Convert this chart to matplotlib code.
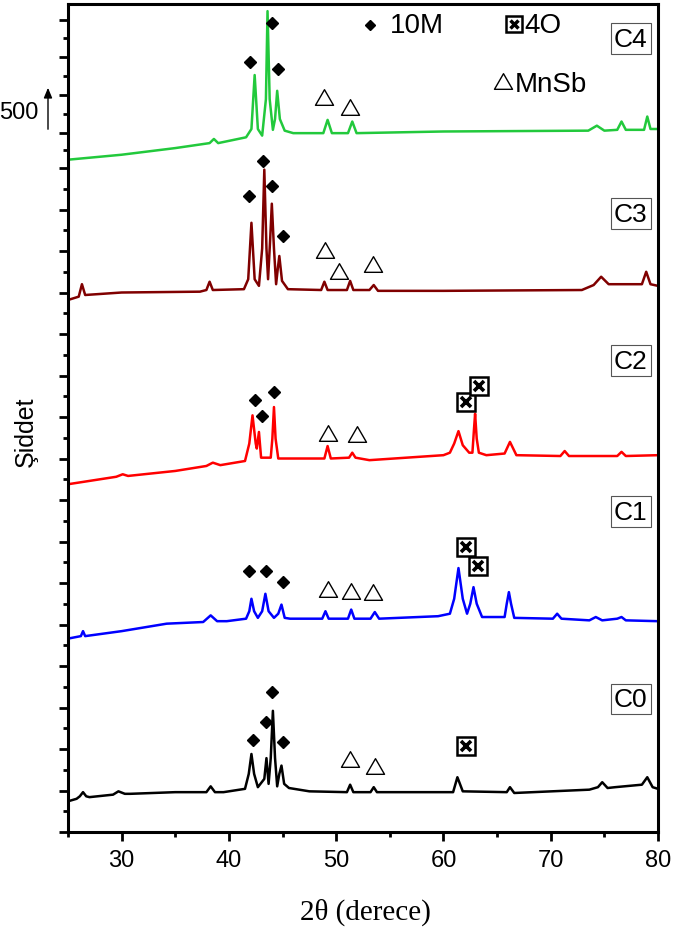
import matplotlib
matplotlib.use("Agg")
import matplotlib.pyplot as plt
from matplotlib.path import Path
from matplotlib.ticker import FixedLocator, MultipleLocator

# --- XRD traces (2theta in degrees, intensity in counts, stacked offsets included) ---
c0_2theta = [25, 25.8, 26.1, 26.4, 26.7, 27.0, 29.2, 29.7, 30.3, 30.8, 35, 37.9, 38.3, 38.7,
             39.5, 41.5, 41.85, 42.1, 42.35, 42.7, 43.3, 43.5, 43.7, 43.9, 44.1, 44.3, 44.5,
             44.7, 44.9, 45.15, 45.6, 47.5, 51.0, 51.3, 51.6, 53.2, 53.5, 53.8, 60.9, 61.3,
             61.8, 65.9, 66.2, 66.6, 73.6, 74.4, 74.8, 75.3, 76, 78.5, 79.0, 79.5, 80]
c0_int = [370, 400, 430, 480, 430, 420, 450, 490, 460, 460, 480, 480, 550, 480,
          480, 520, 700, 940, 700, 540, 640, 890, 580, 890, 1460, 890, 550,
          700, 800, 580, 530, 490, 480, 570, 480, 480, 540, 480, 480, 660,
          490, 480, 540, 470, 510, 540, 600, 530, 540, 570, 660, 540, 520]

c1_2theta = [25, 26.2, 26.4, 26.6, 30, 34.2, 37.6, 38.3, 38.9, 39.8, 41.6, 41.9, 42.1, 42.35,
             42.7, 43.1, 43.4, 43.7, 44.2, 44.6, 44.9, 45.2, 45.7, 48.7, 49.0, 49.3, 51.1,
             51.4, 51.7, 53.2, 53.6, 54.0, 59.5, 60.6, 61.0, 61.4, 61.8, 62.2, 62.5, 62.8,
             63.1, 63.6, 65.7, 65.9, 66.1, 66.3, 66.6, 70.2, 70.6, 71.0, 73.6, 74.2, 74.8,
             76.2, 76.6, 77.0, 80]
c1_int = [2330, 2360, 2420, 2360, 2420, 2510, 2530, 2610, 2540, 2540, 2570, 2660, 2810, 2660,
          2580, 2660, 2870, 2660, 2580, 2630, 2740, 2580, 2570, 2570, 2660, 2570, 2570,
          2680, 2570, 2570, 2650, 2570, 2600, 2630, 2810, 3180, 2810, 2630, 2750, 2950,
          2750, 2590, 2590, 2750, 2890, 2750, 2580, 2570, 2630, 2570, 2550, 2590, 2550,
          2570, 2590, 2550, 2540]

c2_2theta = [25, 29.5, 30.1, 30.6, 35, 37.9, 38.5, 39.2, 41.5, 41.9, 42.2, 42.5, 42.6, 42.8,
             43.0, 43.9, 44.05, 44.2, 44.35, 44.6, 48.9, 49.2, 49.5, 51.2, 51.5, 51.8, 53.1,
             60.0, 60.6, 61.0, 61.4, 61.8, 62.4, 62.7, 62.85, 62.95, 63.1, 63.3, 64, 65.7,
             66.2, 66.8, 70.9, 71.3, 71.7, 76.2, 76.6, 77.0, 80]
c2_int = [4190, 4280, 4310, 4290, 4350, 4410, 4450, 4420, 4470, 4680, 5020, 4680, 4620, 4820,
          4510, 4510, 4740, 5120, 4740, 4500, 4500, 4650, 4500, 4510, 4570, 4510, 4480,
          4540, 4570, 4680, 4830, 4660, 4570, 4570, 4860, 5040, 4740, 4570, 4540, 4560,
          4700, 4540, 4530, 4590, 4530, 4530, 4580, 4530, 4540]

c3_2theta = [25, 26.0, 26.3, 26.6, 30, 37.3, 37.9, 38.2, 38.5, 41.4, 41.8, 42.1, 42.4, 42.8,
             43.1, 43.3, 43.5, 43.65, 43.85, 44.0, 44.2, 44.4, 44.55, 44.7, 44.95, 45.5,
             48.6, 48.9, 49.2, 51.0, 51.3, 51.6, 53.1, 53.5, 53.9, 60, 72.9, 74.0, 74.7,
             75.4, 78.5, 78.9, 79.3, 80]
c3_int = [6410, 6450, 6600, 6470, 6500, 6510, 6530, 6630, 6530, 6540, 6660, 7340, 6660, 6580,
          7030, 7980, 7030, 6660, 7150, 7570, 7030, 6600, 6780, 6940, 6640, 6540,
          6530, 6630, 6530, 6530, 6640, 6530, 6530, 6590, 6520, 6520, 6530, 6590, 6690,
          6600, 6600, 6750, 6600, 6580]

c4_2theta = [25, 30, 35, 38.2, 38.6, 39.0, 41.6, 42.1, 42.4, 42.7, 43.1, 43.45, 43.6, 43.8,
             44.1, 44.3, 44.5, 44.75, 45.2, 46, 48.8, 49.2, 49.6, 51.1, 51.5, 51.9, 60,
             73.5, 74.3, 75.0, 76.2, 76.6, 77.0, 78.7, 79.0, 79.3, 80]
c4_int = [8100, 8160, 8240, 8300, 8350, 8300, 8370, 8470, 9120, 8470, 8390, 8830, 9890, 8830,
          8460, 8590, 8930, 8590, 8450, 8420, 8420, 8580, 8420, 8420, 8560, 8420, 8440,
          8450, 8510, 8450, 8460, 8560, 8460, 8460, 8620, 8470, 8470]

# --- phase markers ---
m10_x = [42.0, 44.05, 44.6, 41.9, 43.15, 44.05, 45.0, 42.4, 43.05, 44.25,
         41.9, 43.5, 45.0, 42.2, 43.5, 44.0, 45.0]
m10_y = [9280, 9750, 9190, 7660, 8090, 7780, 7180, 5210, 5010, 5300,
         3150, 3150, 3010, 1110, 1330, 1690, 1090]
mnsb_x = [48.9, 51.3, 49.0, 50.3, 53.45, 49.2, 51.9, 49.2, 51.4, 53.45, 51.25, 53.65]
mnsb_y = [8860, 8740, 7010, 6760, 6840, 4810, 4800, 2930, 2900, 2890, 880, 800]
o4_x = [62.1, 63.3, 62.1, 63.2, 62.1]
o4_y = [5180, 5370, 3430, 3210, 1040]

sample_names = ["C0", "C1", "C2", "C3", "C4"]
sample_label_y = [1600, 3860, 5680, 7450, 9560]

x_major = [30, 40, 50, 60, 70, 80]
y_major = [0, 500, 1000, 1500, 2000, 2500, 3000, 3500, 4000, 4500, 5000, 5500, 6000,
           6500, 7000, 7500, 8000, 8422, 8880, 9334, 9787]

traces = [
    (c0_2theta, c0_int, "black"),
    (c1_2theta, c1_int, "#0000FF"),
    (c2_2theta, c2_int, "#FF0000"),
    (c3_2theta, c3_int, "#800000"),
    (c4_2theta, c4_int, "#22C93C"),
]

plt.rcParams["font.family"] = ["Liberation Sans", "DejaVu Sans"]

fig = plt.figure(figsize=(6.75, 9.28), dpi=100)
ax = fig.add_axes([68 / 675, 95 / 928, 590 / 675, 828 / 928])

for xs, ys, col in traces:
    ax.plot(xs, ys, color=col, lw=1.8, solid_joinstyle="round", zorder=2)

# open equilateral triangle (closed outline)
tri = Path([(-1, -0.866), (1, -0.866), (0, 0.866), (-1, -0.866)],
           [Path.MOVETO, Path.LINETO, Path.LINETO, Path.CLOSEPOLY])

ax.plot(m10_x, m10_y, ls="none", marker="D", ms=6.2, color="black", zorder=3)
ax.plot(mnsb_x, mnsb_y, ls="none", marker=tri, ms=13, mfc="none", mec="black",
        mew=1.0, zorder=3)
ax.plot(o4_x, o4_y, ls="none", marker="s", ms=13, mfc="white", mec="black",
        mew=1.8, zorder=3)
ax.plot(o4_x, o4_y, ls="none", marker="x", ms=6.5, mec="black", mew=2.6, zorder=4)

for name, ly in zip(sample_names, sample_label_y):
    ax.text(77.45, ly, name, fontsize=19, ha="center", va="center", zorder=5,
            bbox=dict(boxstyle="square,pad=0.12", fc="white", ec="#555555", lw=0.8))

# legend drawn by hand, as in the original figure
tr = ax.transAxes
ax.plot([0.512], [0.975], transform=tr, marker="D", ms=5, color="black", ls="none")
ax.text(0.545, 0.975, "10M", transform=tr, fontsize=20, va="center", ha="left")
ax.plot([0.756], [0.976], transform=tr, marker="s", ms=12, mfc="white", mec="black",
        mew=1.8, ls="none")
ax.plot([0.756], [0.976], transform=tr, marker="x", ms=6, mec="black", mew=2.5, ls="none")
ax.text(0.773, 0.975, "4O", transform=tr, fontsize=20, va="center", ha="left")
ax.plot([0.737], [0.907], transform=tr, marker=tri, ms=13, mfc="none", mec="black",
        mew=1.0, ls="none")
ax.text(0.757, 0.903, "MnSb", transform=tr, fontsize=20, va="center", ha="left")

ax.set_xlim(25, 80)
ax.set_ylim(0, 9976)
ax.xaxis.set_major_locator(FixedLocator(x_major))
ax.xaxis.set_minor_locator(MultipleLocator(5))
ax.yaxis.set_major_locator(FixedLocator(y_major))
ax.yaxis.set_minor_locator(FixedLocator(
    [(a + b) / 2 for a, b in zip(y_major[:-1], y_major[1:])]))
ax.set_yticklabels([])
ax.tick_params(which="major", direction="out", length=6.5, width=2.0, labelsize=17, pad=6)
ax.tick_params(which="minor", direction="out", length=3.5, width=2.0)
ax.tick_params(top=False, right=False, which="both")
for sp in ax.spines.values():
    sp.set_linewidth(2.2)

fig.text(26 / 675, 1 - 432 / 928, "Şiddet", rotation=90, fontsize=18,
         ha="center", va="center")
fig.text(365 / 675, 8 / 928, "2θ (derece)", fontsize=21, ha="center",
         va="baseline", family=["Liberation Serif", "DejaVu Serif"])
fig.text(38 / 675, 1 - 113 / 928, "500", fontsize=17, ha="right", va="center")
fig.patches.append(matplotlib.patches.FancyArrowPatch(
    (48 / 675, 1 - 133 / 928), (48 / 675, 1 - 86 / 928), transform=fig.transFigure,
    arrowstyle="-|>,head_length=6,head_width=2.5", color="black", lw=1.0))

fig.savefig("out.png", dpi=100)
